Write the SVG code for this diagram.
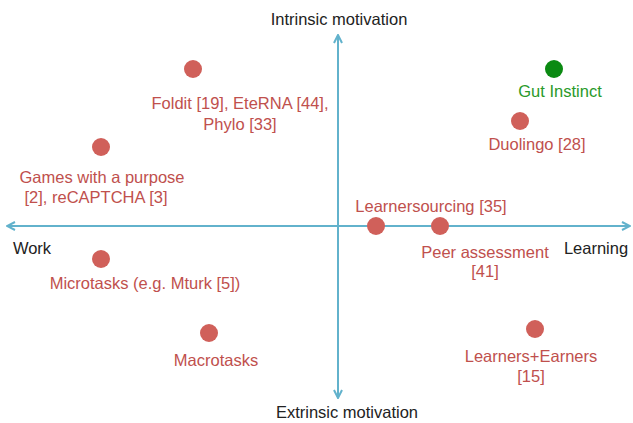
<svg xmlns="http://www.w3.org/2000/svg" width="633" height="423" viewBox="0 0 633 423">
<style>
text{font-family:"Liberation Sans",Arial,sans-serif;font-size:16.5px;text-anchor:middle}
.ax{fill:#222}
.lb{fill:#c0504d}
.gl{fill:#2a9a2a}
.dot{fill:#d0605a}
.gdot{fill:#0b8a12}
.axis{stroke:#62b2cc;stroke-width:2;fill:none}
</style>
<defs>
<marker id="ah" viewBox="0 0 10 10" refX="9" refY="5" markerWidth="5" markerHeight="5" orient="auto-start-reverse" markerUnits="strokeWidth">
<path d="M1,1 L9,5 L1,9" fill="none" stroke="#62b2cc" stroke-width="2"/>
</marker>
</defs>
<g id="axes">
<line class="axis" x1="338" y1="398" x2="338" y2="35" marker-end="url(#ah)" marker-start="url(#ah)"/>
<line class="axis" x1="7" y1="226" x2="630" y2="226" marker-end="url(#ah)" marker-start="url(#ah)"/>
</g>
<g id="axis-labels">
<text class="ax" x="339" y="25">Intrinsic motivation</text>
<text class="ax" x="347" y="418">Extrinsic motivation</text>
<text class="ax" x="32" y="254">Work</text>
<text class="ax" x="596" y="254">Learning</text>
</g>
<g id="foldit"><circle class="dot" cx="193" cy="69" r="9"/><text class="lb" x="240" y="109">Foldit [19], EteRNA [44],</text><text class="lb" x="240" y="130">Phylo [33]</text></g>
<g id="gut-instinct"><circle class="gdot" cx="554" cy="69" r="9"/><text class="gl" x="560" y="97">Gut Instinct</text></g>
<g id="duolingo"><circle class="dot" cx="520" cy="121" r="9"/><text class="lb" x="537" y="150">Duolingo [28]</text></g>
<g id="games"><circle class="dot" cx="101" cy="147" r="9"/><text class="lb" x="102" y="183">Games with a purpose</text><text class="lb" x="96" y="203">[2], reCAPTCHA [3]</text></g>
<g id="learnersourcing"><circle class="dot" cx="376" cy="226" r="9"/><text class="lb" x="431" y="212">Learnersourcing [35]</text></g>
<g id="peer-assessment"><circle class="dot" cx="440" cy="226" r="9"/><text class="lb" x="485" y="258">Peer assessment</text><text class="lb" x="485" y="277">[41]</text></g>
<g id="microtasks"><circle class="dot" cx="101" cy="259" r="9"/><text class="lb" x="145" y="289">Microtasks (e.g. Mturk [5])</text></g>
<g id="macrotasks"><circle class="dot" cx="209" cy="333" r="9"/><text class="lb" x="216" y="366">Macrotasks</text></g>
<g id="learners-earners"><circle class="dot" cx="535" cy="329" r="9"/><text class="lb" x="531" y="362">Learners+Earners</text><text class="lb" x="531" y="382">[15]</text></g>
</svg>
